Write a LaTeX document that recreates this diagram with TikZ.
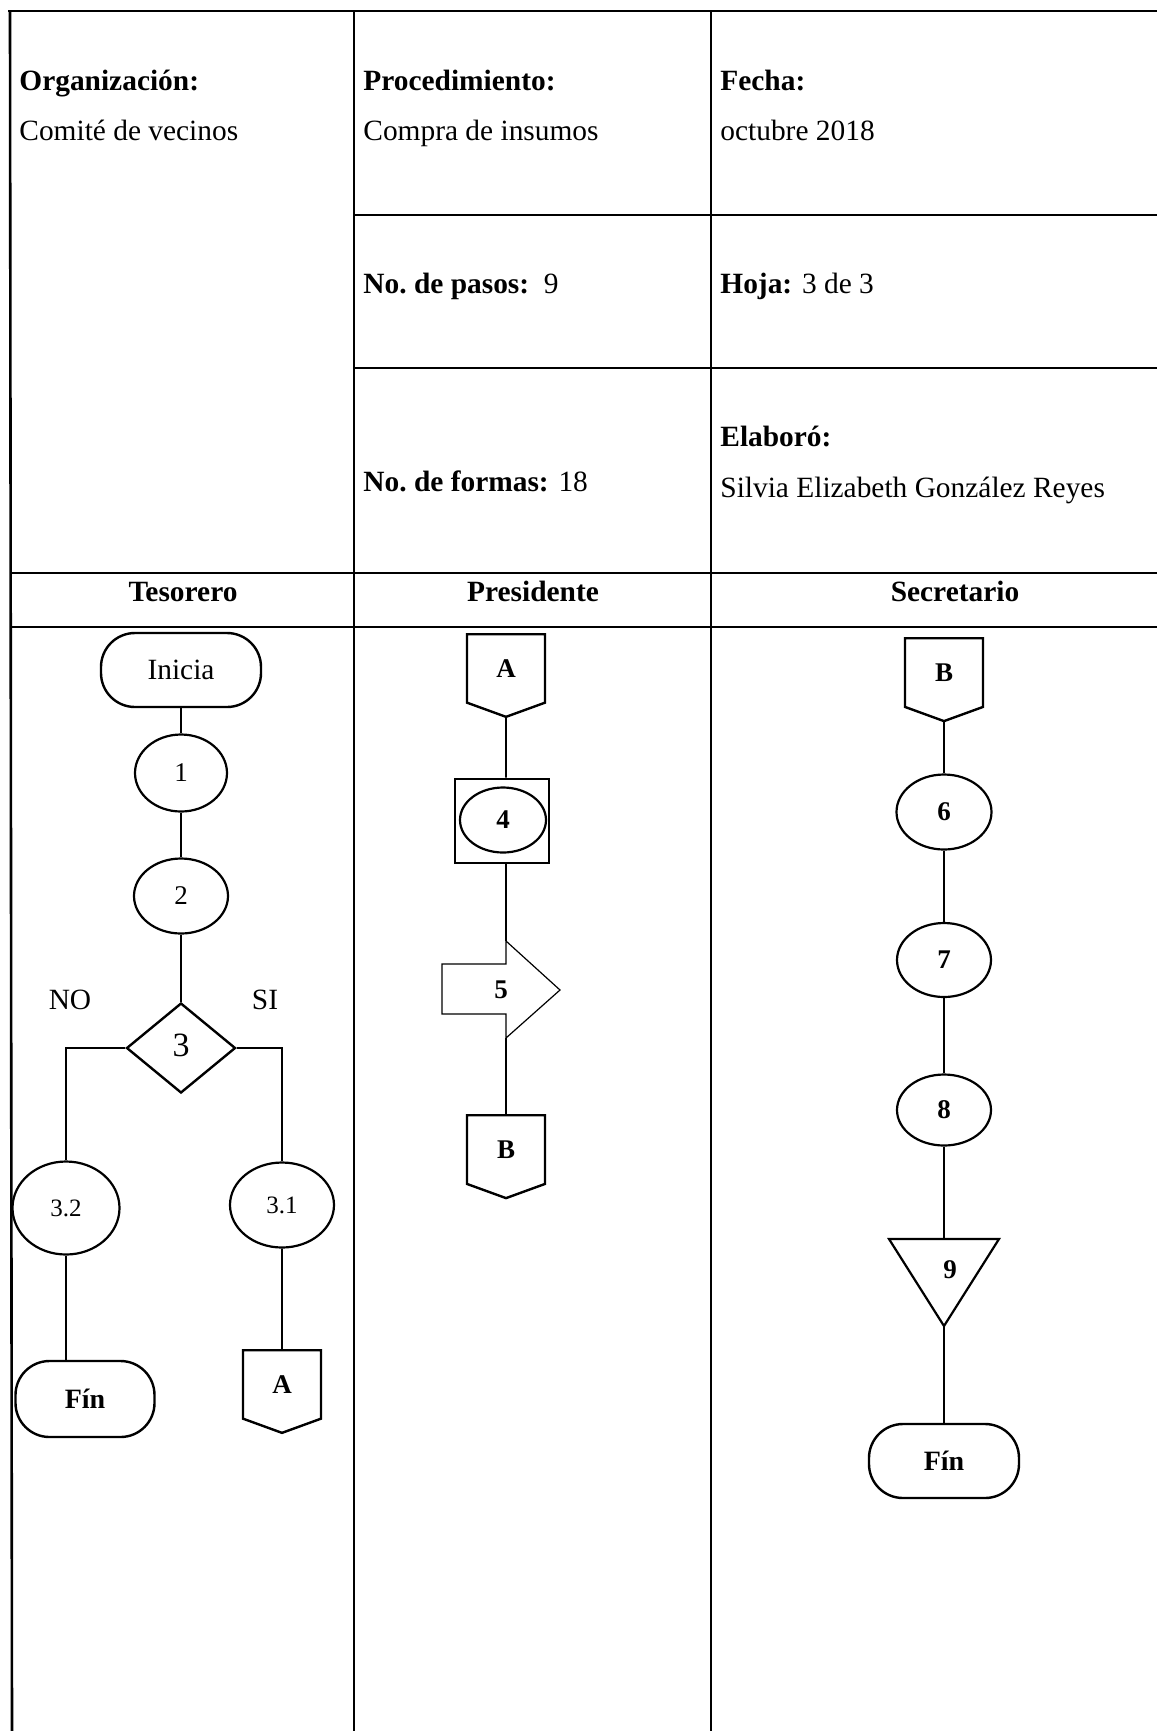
\documentclass[tikz,border=0pt]{standalone}
\usepackage{fontspec}
\setmainfont{Liberation Serif}
\usetikzlibrary{shapes.geometric,shapes.symbols}

\tikzset{
	tabla/.style={line width=1pt},
	divisor/.style={line width=1.3pt},
	dato/.style={inner sep=0pt, font=\fontsize{14.7}{17}\selectfont},
	terminal/.style={draw, line width=1.2pt, rectangle, rounded corners=17pt, inner sep=0pt, font=\fontsize{14.7}{17}\selectfont},
	actividad/.style={draw, line width=1.1pt, ellipse, inner sep=0pt, font=\fontsize{13.5}{15}\selectfont},
	negrita/.style={font=\bfseries\fontsize{13.5}{15}\selectfont},
	decision/.style={draw, line width=1.2pt, diamond, inner sep=0pt, minimum width=54.5pt, minimum height=45pt, font=\fontsize{17}{19}\selectfont},
	conector/.style={draw, line width=1.2pt, signal, signal to=south, signal pointer angle=140, inner sep=0pt, minimum width=39pt, minimum height=36pt, font=\bfseries\fontsize{13.5}{15}\selectfont},
	enlace/.style={line width=0.9pt}
}

\begin{document}
\begin{tikzpicture}[x=0.5pt, y=-0.5pt]
			%%%%% START %%%%%
			\useasboundingbox (0,0) rectangle (1157,1731);
			
			% tabla
			\draw[tabla] (8,11) -- (1157,11);
			\draw[divisor] (10,11) -- (12,1731);
			\draw[divisor] (354,11) -- (354,1731);
			\draw[divisor] (711,11) -- (711,1731);
			\draw[tabla] (354,215) -- (1157,215);
			\draw[tabla] (354,368) -- (1157,368);
			\draw[tabla] (10,573) -- (1157,573);
			\draw[tabla] (10,627) -- (1157,627);
			
			\node[dato, anchor=base west] (org) at (19,90) {\textbf{Organización:}};
			\node[dato, anchor=base west] (orgv) at (19,140) {Comité de vecinos};
			\node[dato, anchor=base west] (proc) at (363,90) {\textbf{Procedimiento:}};
			\node[dato, anchor=base west] (procv) at (363,140) {Compra de insumos};
			\node[dato, anchor=base west] (fecha) at (720,90) {\textbf{Fecha:}};
			\node[dato, anchor=base west] (fechav) at (720,140) {octubre 2018};
			\node[dato, anchor=base west] (pasos) at (363,293) {\textbf{No.\ de pasos:}\ \ 9};
			\node[dato, anchor=base west] (hoja) at (720,293) {\textbf{Hoja:} 3 de 3};
			\node[dato, anchor=base west] (formas) at (363,491) {\textbf{No.\ de formas:} 18};
			\node[dato, anchor=base west] (elab) at (720,446) {\textbf{Elaboró:}};
			\node[dato, anchor=base west] (elabv) at (720,497) {Silvia Elizabeth González Reyes};
			
			\node[dato, anchor=base] (tes) at (183,601) {\textbf{Tesorero}};
			\node[dato, anchor=base] (pre) at (533,601) {\textbf{Presidente}};
			\node[dato, anchor=base] (sec) at (955,601) {\textbf{Secretario}};
			
			% tesorero
			\node[terminal, minimum width=80pt, minimum height=37pt] (ini) at (181,670) {Inicia};
			\node[actividad, minimum width=46pt, minimum height=38.5pt] (p1) at (181,773) {1};
			\node[actividad, minimum width=47pt, minimum height=37.5pt] (p2) at (181,896) {2};
			\node[decision] (p3) at (181,1048) {\raisebox{3pt}{3}};
			\node[dato] (no) at (70,1000) {NO};
			\node[dato] (si) at (265,1000) {SI};
			\node[actividad, font=\fontsize{12.5}{14}\selectfont, minimum width=53.5pt, minimum height=46.5pt] (p32) at (66,1208) {3.2};
			\node[actividad, font=\fontsize{12.5}{14}\selectfont, minimum width=52pt, minimum height=42.5pt] (p31) at (282,1205) {3.1};
			\node[terminal, font=\bfseries\fontsize{14}{16}\selectfont, minimum width=69.5pt, minimum height=38pt] (fin1) at (85,1399) {Fín};
			\node[conector, anchor=north] (cA1) at (282,1349) {A};
			
			\draw[enlace] (ini) -- (p1);
			\draw[enlace] (p1) -- (p2);
			\draw[enlace] (p2) -- (p3);
			\draw[enlace] (p3.west) -| (p32);
			\draw[enlace] (p3.east) -| (p31);
			\draw[enlace] (p32) -- (p32 |- fin1.north);
			\draw[enlace] (p31) -- (cA1);
			
			% presidente
			\node[conector, anchor=north] (cA2) at (506,633) {A};
			\node[draw, line width=1.4pt, minimum width=47pt, minimum height=42pt, inner sep=0pt] (caja4) at (502,821) {};
			\node[actividad, negrita, minimum width=43pt, minimum height=32.5pt] (p4) at (503,820) {4};
			\draw[line width=0.6pt] (442,964) -- (506,964) -- (506,941) coordinate (f5a) -- (560,990) -- (506,1038) coordinate (f5b) -- (506,1014) -- (442,1014) -- cycle;
			\node[negrita] (n5) at (501,990) {5};
			\node[conector, anchor=north] (cB1) at (506,1114) {B};
			
			\draw[enlace] (cA2) -- (cA2 |- caja4.north);
			\draw[enlace] (caja4.south -| f5a) -- (f5a);
			\draw[enlace] (f5b) -- (cB1);
			
			% secretario
			\node[conector, anchor=north] (cB2) at (944,637) {B};
			\node[actividad, negrita, minimum width=47.5pt, minimum height=37.5pt] (p6) at (944,812) {6};
			\node[actividad, negrita, minimum width=47pt, minimum height=37pt] (p7) at (944,960) {7};
			\node[actividad, negrita, minimum width=47pt, minimum height=35.5pt] (p8) at (944,1110) {8};
			\draw[line width=1.1pt] (889,1239) coordinate (t9a) -- (999,1239) coordinate (t9b) -- (944,1326) coordinate (t9c) -- cycle;
			\coordinate (t9m) at (944,1239);
			\node[negrita] (n9) at (950,1270) {9};
			\node[terminal, font=\bfseries\fontsize{14}{16}\selectfont, minimum width=75pt, minimum height=37pt] (fin2) at (944,1461) {Fín};
			
			\draw[enlace] (cB2) -- (p6);
			\draw[enlace] (p6) -- (p7);
			\draw[enlace] (p7) -- (p8);
			\draw[enlace] (p8) -- (t9m);
			\draw[enlace] (t9c) -- (fin2);
			
			%%%%% END %%%%%
\end{tikzpicture}
\end{document}
